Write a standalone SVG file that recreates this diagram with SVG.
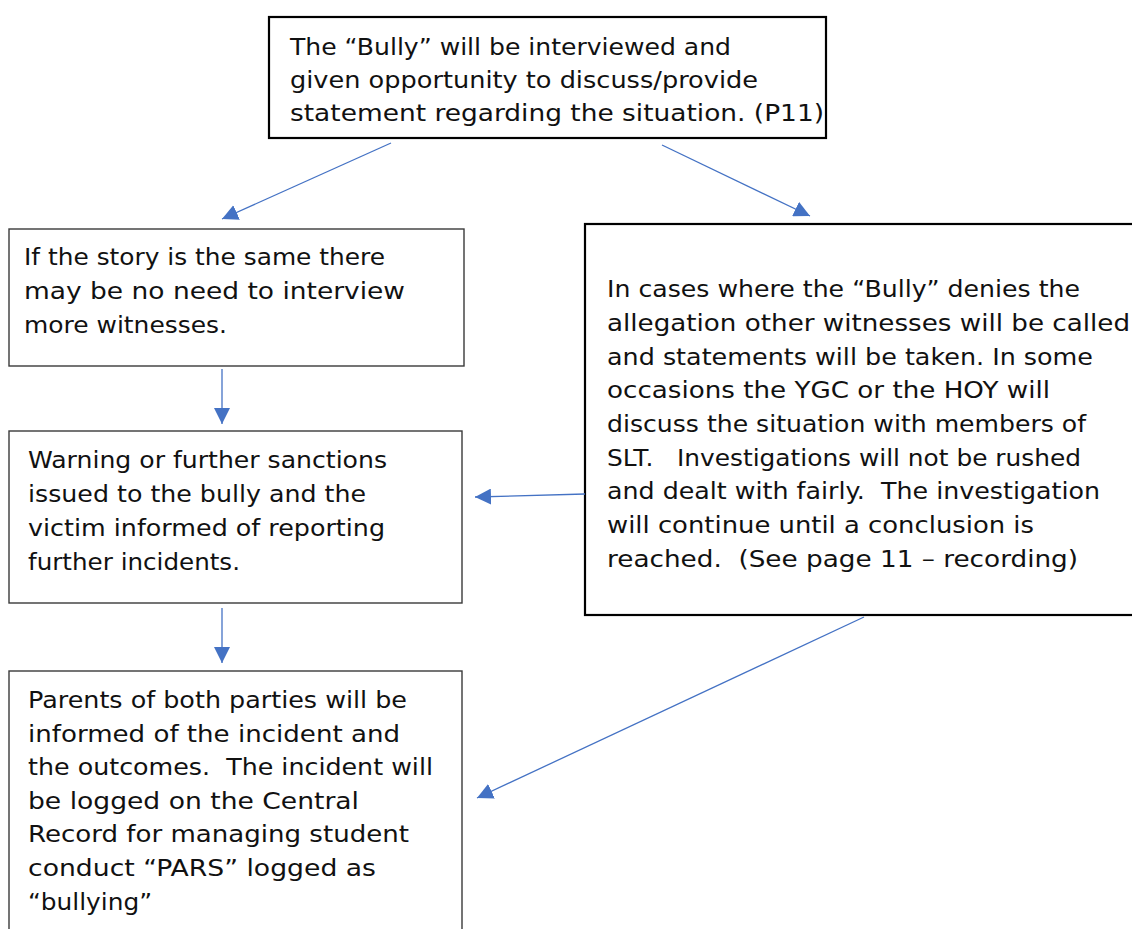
<svg xmlns="http://www.w3.org/2000/svg" width="1132" height="929" viewBox="0 0 1132 929">
<style>
.bg{fill:#ffffff}
.boxk{fill:#ffffff;stroke:#000000;stroke-width:2.2}
.boxg{fill:#ffffff;stroke:#3a3a3a;stroke-width:1.4}
.t{font-family:"DejaVu Sans","Liberation Sans",sans-serif;font-size:23.5px;fill:#111111}
.c{fill:none;stroke:#4472c4;stroke-width:1.3}
</style>
<defs>
<marker id="ah" markerUnits="userSpaceOnUse" markerWidth="18" markerHeight="16" viewBox="0 0 18 16" refX="16" refY="8" orient="auto">
<path d="M0,0 L16,8 L0,16 Z" fill="#4472c4"/>
</marker>
</defs>
<rect class="bg" x="0" y="0" width="1132" height="929"/>
<g id="n1">
<rect class="boxk" x="269" y="17" width="557" height="121"/>
<text class="t"><tspan x="290" y="55" textLength="441" lengthAdjust="spacingAndGlyphs">The “Bully” will be interviewed and</tspan><tspan x="290" y="88" textLength="468" lengthAdjust="spacingAndGlyphs">given opportunity to discuss/provide</tspan><tspan x="290" y="121" textLength="534" lengthAdjust="spacingAndGlyphs">statement regarding the situation. (P11)</tspan></text>
</g>
<g id="n2">
<rect class="boxg" x="9" y="229" width="455" height="137"/>
<text class="t"><tspan x="24" y="265" textLength="361" lengthAdjust="spacingAndGlyphs">If the story is the same there</tspan><tspan x="24" y="299" textLength="381" lengthAdjust="spacingAndGlyphs">may be no need to interview</tspan><tspan x="24" y="333" textLength="203" lengthAdjust="spacingAndGlyphs">more witnesses.</tspan></text>
</g>
<g id="n3">
<rect class="boxk" x="585" y="224" width="550" height="391"/>
<text class="t"><tspan x="607" y="297" textLength="473" lengthAdjust="spacingAndGlyphs">In cases where the “Bully” denies the</tspan><tspan x="607" y="331" textLength="523" lengthAdjust="spacingAndGlyphs">allegation other witnesses will be called</tspan><tspan x="607" y="365" textLength="486" lengthAdjust="spacingAndGlyphs">and statements will be taken. In some</tspan><tspan x="607" y="398" textLength="443" lengthAdjust="spacingAndGlyphs">occasions the YGC or the HOY will</tspan><tspan x="607" y="432" textLength="479" lengthAdjust="spacingAndGlyphs">discuss the situation with members of</tspan><tspan x="607" y="466" textLength="474" lengthAdjust="spacingAndGlyphs" xml:space="preserve">SLT.   Investigations will not be rushed</tspan><tspan x="607" y="499" textLength="493" lengthAdjust="spacingAndGlyphs" xml:space="preserve">and dealt with fairly.  The investigation</tspan><tspan x="607" y="533" textLength="427" lengthAdjust="spacingAndGlyphs">will continue until a conclusion is</tspan><tspan x="607" y="567" textLength="471" lengthAdjust="spacingAndGlyphs" xml:space="preserve">reached.  (See page 11 – recording)</tspan></text>
</g>
<g id="n4">
<rect class="boxg" x="9" y="431" width="453" height="172"/>
<text class="t"><tspan x="28" y="468" textLength="359" lengthAdjust="spacingAndGlyphs">Warning or further sanctions</tspan><tspan x="28" y="502" textLength="338" lengthAdjust="spacingAndGlyphs">issued to the bully and the</tspan><tspan x="28" y="536" textLength="357" lengthAdjust="spacingAndGlyphs">victim informed of reporting</tspan><tspan x="28" y="570" textLength="212" lengthAdjust="spacingAndGlyphs">further incidents.</tspan></text>
</g>
<g id="n5">
<rect class="boxg" x="9" y="671" width="453" height="270"/>
<text class="t"><tspan x="28" y="708" textLength="379" lengthAdjust="spacingAndGlyphs">Parents of both parties will be</tspan><tspan x="28" y="742" textLength="372" lengthAdjust="spacingAndGlyphs">informed of the incident and</tspan><tspan x="28" y="775" textLength="405" lengthAdjust="spacingAndGlyphs" xml:space="preserve">the outcomes.  The incident will</tspan><tspan x="28" y="809" textLength="331" lengthAdjust="spacingAndGlyphs">be logged on the Central</tspan><tspan x="28" y="842" textLength="381" lengthAdjust="spacingAndGlyphs">Record for managing student</tspan><tspan x="28" y="876" textLength="348" lengthAdjust="spacingAndGlyphs">conduct “PARS” logged as</tspan><tspan x="28" y="910" textLength="124" lengthAdjust="spacingAndGlyphs">“bullying”</tspan></text>
</g>
<g id="connectors">
<line class="c" x1="391" y1="143" x2="222" y2="219" marker-end="url(#ah)"/>
<line class="c" x1="662" y1="145" x2="810" y2="216" marker-end="url(#ah)"/>
<line class="c" x1="222" y1="369" x2="222" y2="424" marker-end="url(#ah)"/>
<line class="c" x1="585" y1="494" x2="475" y2="497" marker-end="url(#ah)"/>
<line class="c" x1="222" y1="608" x2="222" y2="663" marker-end="url(#ah)"/>
<line class="c" x1="864" y1="617" x2="477" y2="798" marker-end="url(#ah)"/>
</g>
</svg>
